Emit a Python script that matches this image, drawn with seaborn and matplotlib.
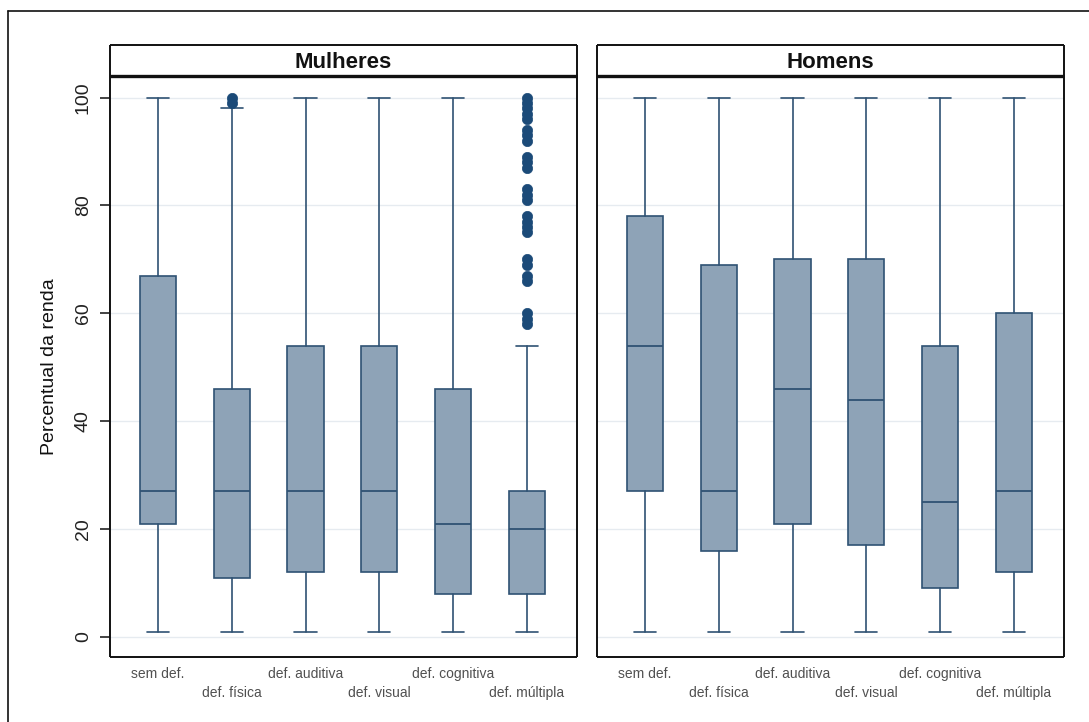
import matplotlib
matplotlib.use("Agg")
import matplotlib.pyplot as plt
import seaborn as sns
import pandas as pd
from matplotlib.lines import Line2D

# ---------------- data ----------------
categories = ["sem def.", "def. física", "def. auditiva", "def. visual",
              "def. cognitiva", "def. múltipla"]
panels = ["Mulheres", "Homens"]

mulheres_q1 = [21, 11, 12, 12, 8, 8]
mulheres_med = [27, 27, 27, 27, 21, 20]
mulheres_q3 = [67, 46, 54, 54, 46, 27]
mulheres_whislo = [1, 1, 1, 1, 1, 1]
mulheres_whishi = [100, 98, 100, 100, 100, 54]
mulheres_fliers = [[], [99, 100], [], [], [],
                   [58, 59, 60, 66, 67, 69, 70, 75, 76, 77, 78, 81, 82, 83,
                    87, 88, 89, 92, 93, 94, 96, 97, 98, 99, 100]]

homens_q1 = [27, 16, 21, 17, 9, 12]
homens_med = [54, 27, 46, 44, 25, 27]
homens_q3 = [78, 69, 70, 70, 54, 60]
homens_whislo = [1, 1, 1, 1, 1, 1]
homens_whishi = [100, 100, 100, 100, 100, 100]
homens_fliers = [[], [], [], [], [], []]

yticks = [0, 20, 40, 60, 80, 100]
ylabel = "Percentual da renda"

# ---------------- style ----------------
sns.set_theme(style="white")
plt.rcParams["font.family"] = ["Liberation Sans", "DejaVu Sans"]

W, H = 1089, 722
fig = plt.figure(figsize=(W / 100, H / 100), dpi=100)
fig.patch.set_facecolor("white")

FILL = "#8ea3b7"
EDGE = "#2f5273"
FLIER = "#1b4a78"
GRID = "#e6ebf0"


def px_axes(x0, y0, x1, y1):
    return fig.add_axes([x0 / W, 1 - y1 / H, (x1 - x0) / W, (y1 - y0) / H])


panel_x = [(110, 577), (597, 1064)]
data = [
    (mulheres_q1, mulheres_med, mulheres_q3, mulheres_whislo, mulheres_whishi, mulheres_fliers),
    (homens_q1, homens_med, homens_q3, homens_whislo, homens_whishi, homens_fliers),
]

for i, (name, (x0, x1), d) in enumerate(zip(panels, panel_x, data)):
    q1, med, q3, wlo, whi, fl = d
    ax = px_axes(x0, 76, x1, 657)
    stats = []
    for k, cat in enumerate(categories):
        stats.append(dict(label=cat, q1=q1[k], med=med[k], q3=q3[k],
                          whislo=wlo[k], whishi=whi[k], fliers=[]))
    pos = list(range(len(categories)))
    ax.bxp(stats, positions=pos, widths=0.49, patch_artist=True,
           showfliers=False, capwidths=0.3,
           boxprops=dict(facecolor=FILL, edgecolor=EDGE, linewidth=1.2),
           medianprops=dict(color=EDGE, linewidth=1.3),
           whiskerprops=dict(color=EDGE, linewidth=1.2),
           capprops=dict(color=EDGE, linewidth=1.2))
    fdf = pd.DataFrame([(p, v) for p, vals in zip(pos, fl) for v in vals],
                       columns=["pos", "valor"])
    if len(fdf):
        sns.scatterplot(data=fdf, x="pos", y="valor", ax=ax, color=FLIER,
                        s=55, edgecolor=FLIER, linewidth=0.5, zorder=4)
    ax.set_xlabel("")
    ax.set_ylabel("")
    ax.set_xlim(-0.65, 5.68)
    ax.set_ylim(-3.71, 104.0)
    ax.set_yticks(yticks)
    ax.yaxis.grid(True, color=GRID, linewidth=1.0)
    ax.set_axisbelow(True)
    for s in ax.spines.values():
        s.set_color("#111111")
        s.set_linewidth(1.4)
        s.set_capstyle("butt")
    # staggered category labels
    ax.set_xticks(pos[0::2], labels=categories[0::2])
    ax.set_xticks(pos[1::2], labels=categories[1::2], minor=True)
    ax.tick_params(axis="x", which="major", length=0, pad=7, labelsize=10,
                   labelcolor="#505050")
    ax.tick_params(axis="x", which="minor", length=0, pad=21, labelsize=10,
                   labelcolor="#505050")
    if i == 0:
        ax.set_yticklabels([str(t) for t in yticks], rotation=90, va="center",
                           fontsize=14, color="#222222")
        ax.tick_params(axis="y", length=7, width=1.2, color="#222222", pad=6,
                       left=True)
        ax.set_ylabel(ylabel, fontsize=14, color="#111111", labelpad=12)
    else:
        ax.tick_params(axis="y", length=0, labelleft=False)

    # title strip
    st = px_axes(x0, 45, x1, 76)
    st.set_xticks([])
    st.set_yticks([])
    st.set_facecolor("white")
    for s in st.spines.values():
        s.set_color("#111111")
        s.set_linewidth(1.4)
        s.set_capstyle("butt")
    st.spines["bottom"].set_linewidth(2.4)
    st.text(0.5, 0.45, name, ha="center", va="center", fontsize=16,
            fontweight="bold", color="#111111", transform=st.transAxes)

# outer frame (top and left edges visible)
fig.add_artist(Line2D([8 / W, 1.0], [1 - 11 / H, 1 - 11 / H],
                      color="#111111", linewidth=1.2))
fig.add_artist(Line2D([8 / W, 8 / W], [0.0, 1 - 11 / H],
                      color="#111111", linewidth=1.2))

fig.savefig("out.png", dpi=100)
